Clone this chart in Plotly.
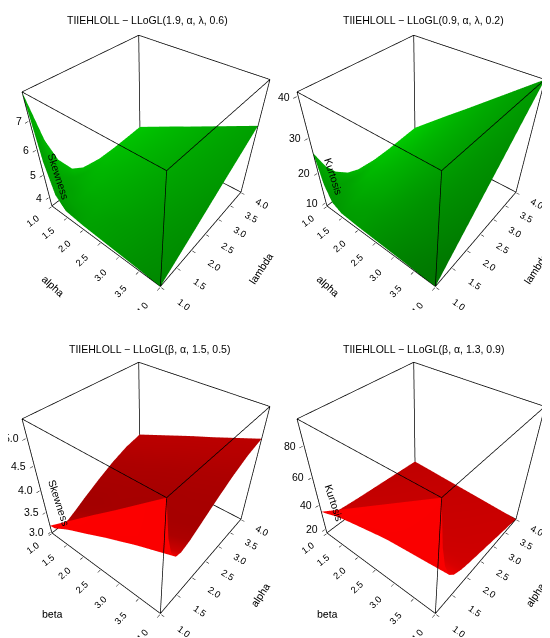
import numpy as np
import plotly.graph_objects as go

# axis ticks shared by all panels
par_ticks = [1.0, 1.5, 2.0, 2.5, 3.0, 3.5, 4.0]

# top panels: alpha (x) by lambda (y); rows are alpha, columns lambda
alpha_top = [1.0, 1.1, 1.25, 1.5, 2.0, 2.5, 3.0, 3.5, 4.0]
lambda_top = [1.0, 1.2, 1.4, 1.7, 2.0, 2.5, 3.0, 3.5, 4.0]

skew_top = [
    [7.90, 6.18, 5.23, 4.52, 4.25, 4.13, 4.14, 4.19, 4.25],
    [5.63, 4.90, 4.51, 4.22, 4.13, 4.13, 4.19, 4.25, 4.32],
    [4.38, 4.19, 4.11, 4.07, 4.09, 4.16, 4.24, 4.34, 4.43],
    [3.91, 3.94, 3.97, 4.04, 4.10, 4.23, 4.36, 4.48, 4.61],
    [3.80, 3.88, 3.96, 4.07, 4.19, 4.38, 4.58, 4.77, 4.97],
    [3.75, 3.85, 3.96, 4.12, 4.27, 4.54, 4.80, 5.06, 5.32],
    [3.70, 3.83, 3.96, 4.16, 4.36, 4.69, 5.02, 5.35, 5.68],
    [3.65, 3.81, 3.97, 4.21, 4.45, 4.85, 5.24, 5.64, 6.04],
    [3.60, 3.79, 3.97, 4.25, 4.53, 5.00, 5.47, 5.93, 6.40],
]

kurt_top = [
    [26.0, 20.6, 17.3, 14.5, 13.2, 12.6, 12.7, 13.1, 13.5],
    [17.2, 15.0, 13.7, 12.8, 12.5, 12.7, 13.2, 13.8, 14.4],
    [12.3, 12.0, 11.9, 12.1, 12.4, 13.2, 14.0, 14.9, 15.8],
    [10.5, 10.9, 11.4, 12.1, 12.9, 14.2, 15.5, 16.8, 18.1],
    [10.0, 10.8, 11.7, 13.0, 14.2, 16.3, 18.4, 20.6, 22.7],
    [9.75, 10.9, 12.1, 13.8, 15.6, 18.5, 21.4, 24.3, 27.2],
    [9.50, 11.0, 12.5, 14.7, 17.0, 20.7, 24.4, 28.1, 31.8],
    [9.25, 11.1, 12.9, 15.6, 18.3, 22.8, 27.4, 31.9, 36.4],
    [9.00, 11.1, 13.3, 16.5, 19.7, 25.0, 30.3, 35.7, 41.0],
]

# bottom panels: beta (x) by alpha (y); rows are alpha, columns beta
beta_bot = [1.0, 1.5, 2.0, 2.5, 3.0, 3.5, 4.0]
alpha_bot = [1.0, 1.1, 1.2, 1.35, 1.5, 1.75, 2.0, 2.5, 3.0, 3.5, 4.0]

skew_bot = [
    [3.17, 3.53, 3.89, 4.25, 4.60, 4.96, 5.32],
    [3.03, 3.29, 3.56, 3.82, 4.07, 4.33, 4.60],
    [2.98, 3.19, 3.40, 3.62, 3.82, 4.03, 4.24],
    [2.98, 3.16, 3.33, 3.51, 3.68, 3.86, 4.04],
    [3.01, 3.18, 3.35, 3.51, 3.67, 3.84, 4.01],
    [3.11, 3.27, 3.44, 3.60, 3.75, 3.91, 4.07],
    [3.22, 3.38, 3.54, 3.70, 3.85, 4.01, 4.17],
    [3.42, 3.58, 3.74, 3.90, 4.05, 4.21, 4.37],
    [3.60, 3.76, 3.92, 4.08, 4.23, 4.39, 4.55],
    [3.74, 3.90, 4.06, 4.22, 4.37, 4.53, 4.69],
    [3.82, 3.98, 4.14, 4.30, 4.45, 4.61, 4.77],
]

kurt_bot = [
    [35.0, 45.0, 55.0, 65.0, 75.0, 85.0, 95.0],
    [31.4, 37.0, 42.6, 48.3, 53.9, 59.5, 65.2],
    [29.4, 32.8, 36.2, 39.5, 42.9, 46.3, 49.6],
    [28.0, 29.8, 31.5, 33.4, 35.2, 36.9, 38.7],
    [27.3, 28.4, 29.5, 30.7, 31.9, 33.0, 34.2],
    [26.6, 27.3, 28.0, 28.7, 29.5, 30.1, 30.9],
    [26.0, 26.5, 27.0, 27.5, 28.1, 28.5, 29.1],
    [25.0, 25.2, 25.3, 25.5, 25.7, 25.8, 26.0],
    [24.0, 23.8, 23.7, 23.5, 23.3, 23.2, 23.0],
    [23.0, 22.5, 22.0, 21.5, 21.0, 20.5, 20.0],
    [22.0, 21.2, 20.3, 19.5, 18.7, 17.8, 17.0],
]

skew_top_ticks = [4, 5, 6, 7]
kurt_top_ticks = [10, 20, 30, 40]
skew_bot_ticks = [3.0, 3.5, 4.0, 4.5, 5.0]
kurt_bot_ticks = [20, 40, 60, 80]

titles = [
    "TIIEHLOLL \u2212 LLoGL(1.9, \u03b1, \u03bb, 0.6)",
    "TIIEHLOLL \u2212 LLoGL(0.9, \u03b1, \u03bb, 0.2)",
    "TIIEHLOLL \u2212 LLoGL(\u03b2, \u03b1, 1.5, 0.5)",
    "TIIEHLOLL \u2212 LLoGL(\u03b2, \u03b1, 1.3, 0.9)",
]

panels = [
    dict(x=alpha_top, y=lambda_top, z=np.array(skew_top).T, xt="alpha", yt="lambda",
         zt="Skewness", zticks=skew_top_ticks, zfmt="d", col="rgb(0,255,0)"),
    dict(x=alpha_top, y=lambda_top, z=np.array(kurt_top).T, xt="alpha", yt="lambda",
         zt="Kurtosis", zticks=kurt_top_ticks, zfmt="d", col="rgb(0,255,0)"),
    dict(x=beta_bot, y=alpha_bot, z=np.array(skew_bot), xt="beta", yt="alpha",
         zt="Skewness", zticks=skew_bot_ticks, zfmt=".1f", col="rgb(255,0,0)"),
    dict(x=beta_bot, y=alpha_bot, z=np.array(kurt_bot), xt="beta", yt="alpha",
         zt="Kurtosis", zticks=kurt_bot_ticks, zfmt="d", col="rgb(255,0,0)"),
]

domains = [
    ([0.0, 0.5], [0.53, 1.0]),
    ([0.5, 1.0], [0.53, 1.0]),
    ([0.0, 0.5], [0.015, 0.485]),
    ([0.5, 1.0], [0.015, 0.485]),
]


def shade(xv, yv, z, light=(-0.5, 1.0, 0.1), power=0.5):
    # persp-like facet shading in the unit box
    z = np.asarray(z, float)
    xn = (np.asarray(xv) - min(xv)) / (max(xv) - min(xv))
    yn = (np.asarray(yv) - min(yv)) / (max(yv) - min(yv))
    zn = (z - z.min()) / (z.max() - z.min())
    dzdy, dzdx = np.gradient(zn, yn, xn)
    n = np.stack([-dzdx, -dzdy, np.ones_like(zn)])
    n = n / np.linalg.norm(n, axis=0)
    lv = np.array(light) / np.linalg.norm(light)
    d = np.tensordot(lv, n, axes=1)
    return ((1 + d) / 2) ** power


def pad(r, f=0.006):
    # a hair of room so the box edges are not clipped by the scene bounds
    s = (r[1] - r[0]) * f
    return [r[0] - s, r[1] + s]


fig = go.Figure()
fam = "Liberation Sans, Arial, sans-serif"
axfont = dict(family=fam, size=10.5, color="black")


def ax(title, vals, fmt, rng, labels=True):
    return dict(
        title=dict(text=title, font=dict(family=fam, size=10.5, color="black")),
        range=rng, tickvals=vals, tickformat=fmt, tickfont=axfont,
        showticklabels=labels,
        showbackground=False, showgrid=False, zeroline=False, showline=False,
        ticks="outside", ticklen=3, tickcolor="black",
        showspikes=False,
    )


for i, p in enumerate(panels):
    sc = "scene" if i == 0 else f"scene{i + 1}"
    zarr = np.asarray(p["z"])
    xr = [min(p["x"]), max(p["x"])]
    yr = [min(p["y"]), max(p["y"])]
    zr = [float(zarr.min()), float(zarr.max())]
    fig.add_trace(go.Surface(
        x=p["x"], y=p["y"], z=p["z"],
        surfacecolor=shade(p["x"], p["y"], p["z"]), cmin=0, cmax=1,
        colorscale=[[0, "rgb(0,0,0)"], [1, p["col"]]],
        showscale=False, hoverinfo="skip",
        lighting=dict(ambient=1.0, diffuse=0.0, specular=0.0, roughness=1.0, fresnel=0.0),
        scene=sc,
    ))
    # the 12 box edges, one small line trace each
    edges = []
    for a in yr:
        for b in zr:
            edges.append((xr, [a, a], [b, b]))
    for a in xr:
        for b in zr:
            edges.append(([a, a], yr, [b, b]))
    for a in xr:
        for b in yr:
            edges.append(([a, a], [b, b], zr))
    for ex, ey, ez in edges:
        fig.add_trace(go.Scatter3d(
            x=ex, y=ey, z=ez, mode="lines", line=dict(color="black", width=1.5),
            hoverinfo="skip", showlegend=False, scene=sc,
        ))

    # z tick labels and title sit on the left vertical edge, as persp draws them
    notes = [dict(x=xr[0], y=yr[0], z=v, text=format(v, p["zfmt"]), showarrow=False,
                  xanchor="right", yanchor="middle", xshift=-6, font=axfont)
             for v in p["zticks"]]
    notes.append(dict(x=xr[0], y=yr[0], z=zr[0] + (zr[1] - zr[0]) * 0.3, text=p["zt"],
                      showarrow=False, xanchor="center", yanchor="middle",
                      xshift=14, yshift=2, textangle=72,
                      font=dict(family=fam, size=10.5, color="black")))

    fig.layout[sc] = dict(
        domain=dict(x=domains[i][0], y=domains[i][1]),
        xaxis=ax(p["xt"], par_ticks, ".1f", pad(xr)),
        yaxis=ax(p["yt"], par_ticks, ".1f", pad(yr)),
        zaxis=ax("", p["zticks"], p["zfmt"], pad(zr), labels=False),
        aspectmode="manual", aspectratio=dict(x=0.84, y=0.84, z=0.8),
        camera=dict(eye=dict(x=0.94, y=-1.17, z=1.26), center=dict(x=-0.012, y=-0.012, z=-0.08),
                    projection=dict(type="perspective")),
        annotations=notes,
    )

title_x = [0.253, 0.755, 0.257, 0.755]
title_y = [1.0, 1.0, 0.481, 0.481]
for i, t in enumerate(titles):
    fig.add_annotation(
        text=t, showarrow=False, xref="paper", yref="paper",
        x=title_x[i], y=title_y[i], xanchor="center", yanchor="top",
        font=dict(family=fam, size=10.5, color="black"),
    )

fig.update_layout(
    width=550, height=638, margin=dict(l=0, r=0, t=4, b=0),
    paper_bgcolor="white", showlegend=False,
)

fig.write_html("out.html")
